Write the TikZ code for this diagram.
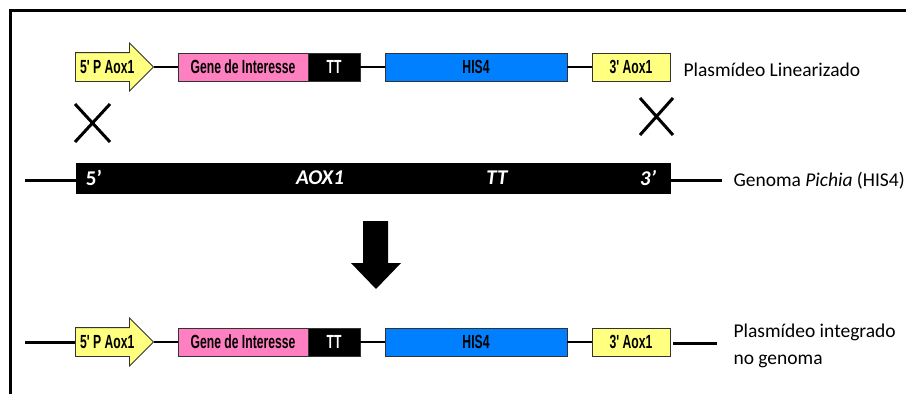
\documentclass[tikz,border=0pt]{standalone}
\usepackage{fontspec}
\setmainfont{Carlito}
\newfontfamily\boxfont[FakeStretch=0.64]{Liberation Sans}
\usepackage{tikz}
\usetikzlibrary{shapes.arrows,positioning,calc}

\definecolor{promyellow}{RGB}{255,255,128}
\definecolor{genepink}{RGB}{255,128,192}
\definecolor{hisblue}{RGB}{0,128,255}

\tikzset{
  genebox/.style={draw=black!80,line width=0.9pt,minimum height=28pt,inner sep=0pt,
    font=\boxfont\bfseries\fontsize{19}{20}\selectfont},
  promarrow/.style={single arrow,draw=black!80,fill=promyellow,line width=0.9pt,
    single arrow head extend=9.5pt,minimum height=78pt,inner sep=0pt,
    text height=20.8pt,text depth=7.2pt,font=\boxfont\bfseries\fontsize{19}{20}\selectfont},
  link/.style={line width=1.3pt},
  bartext/.style={text=white,font=\bfseries\itshape\fontsize{21}{22}\selectfont},
  cross/.style={line width=3pt}
}

\begin{document}
\begin{tikzpicture}[x=1pt,y=-1pt]
	\useasboundingbox (0,0) rectangle (906,394);
	% frame
	\draw[line width=3pt] (10,394) -- (10,10) -- (906,10);

	% plasmid rows (linearized and integrated)
	\foreach \r/\y in {1/67,3/342}{
		\node[promarrow,anchor=tail] (prom\r) at (75,\y) {5' P Aox1};
		\node[genebox,fill=genepink,minimum width=130pt] (gene\r) at (243,\y) {Gene de Interesse};
		\node[genebox,fill=black,text=white,minimum width=52pt] (tt\r) at (334,\y) {TT};
		\node[genebox,fill=hisblue,minimum width=182pt] (his\r) at (476,\y) {HIS4};
		\node[genebox,fill=promyellow,minimum width=78pt] (aox\r) at (631,\y) {3' Aox1};
		\draw[link] (prom\r.tip) -- (gene\r.west);
		\draw[link] (tt\r.east) -- (his\r.west);
		\draw[link] (his\r.east) -- (aox\r.west);
	}
	\node[anchor=west,font=\fontsize{19.5}{22}\selectfont] (lbllin) at (680,70) {Plasmídeo Linearizado};

	% crossover marks
	\draw[cross] (75,104) -- (110,142) (75,142) -- (110,104);
	\draw[cross] (640,98) -- (673,135) (640,135) -- (673,98);

	% genome
	\node[fill=black,minimum width=595pt,minimum height=31pt,inner sep=0pt] (genome) at (373.5,178.5) {};
	\node[bartext,font=\bfseries\fontsize{21}{22}\selectfont] (g5) at (94,178) {5'};
	\node[bartext] (gaox) at (320,178) {AOX1};
	\node[bartext] (gtt) at (497,178) {TT};
	\node[bartext] (g3) at (648,178) {3'};
	\coordinate (gleft) at (25,180);
	\coordinate (gright) at (722,180);
	\draw[line width=3pt] (gleft) -- (gleft -| genome.west);
	\draw[line width=3pt] (gright -| genome.east) -- (gright);
	\node[anchor=west,font=\fontsize{19.5}{22}\selectfont] (lblgen) at (730,181) {Genoma \textit{Pichia} (HIS4)};

	% result arrow
	\fill (363,221) -- (388,221) -- (388,263) -- (401,263) -- (376,289) -- (351,263) -- (363,263) -- cycle;

	% integrated plasmid ends
	\coordinate (ileft) at (25,342);
	\coordinate (iright) at (717,343);
	\draw[line width=3pt] (ileft) -- (prom3.tail);
	\draw[line width=3pt] ($(aox3.east)+(3,1)$) -- (iright);
	\node[anchor=west,align=left,font=\fontsize{19.5}{27}\selectfont] (lblint) at (730,346) {Plasmídeo integrado\\no genoma};
\end{tikzpicture}
\end{document}
